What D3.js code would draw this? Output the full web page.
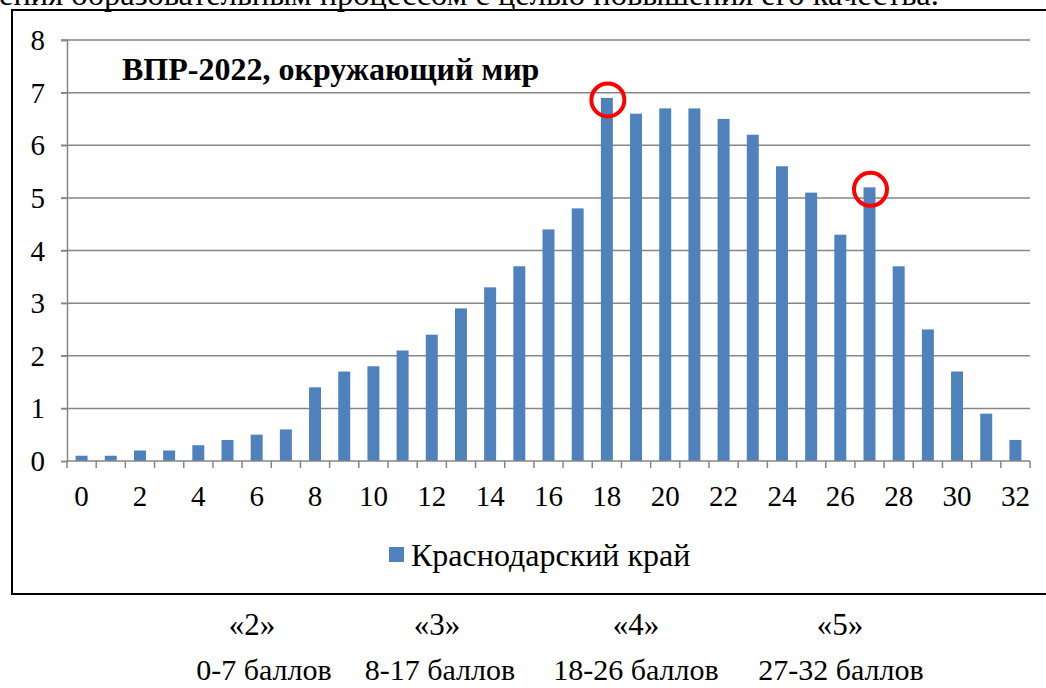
<!DOCTYPE html>
<html><head><meta charset="utf-8">
<script src="https://cdn.jsdelivr.net/npm/d3@7"></script>
<style>body{margin:0;background:#fff;overflow:hidden}svg{display:block}
svg text{font-family:"Liberation Serif","Times New Roman","DejaVu Serif",serif;}</style>
</head><body>
<svg id="c" width="1046" height="688"></svg>
<script>
const categories = d3.range(0, 33);
const values = [0.1,0.1,0.2,0.2,0.3,0.4,0.5,0.6,1.4,1.7,1.8,2.1,2.4,2.9,3.3,3.7,4.4,4.8,6.9,6.6,6.7,6.7,6.5,6.2,5.6,5.1,4.3,5.2,3.7,2.5,1.7,0.9,0.4];
const yTicks = [0,1,2,3,4,5,6,7,8];
const xTickLabels = d3.range(0, 33, 2);
const highlighted = [18, 27];
const seriesName = "Краснодарский край";
const chartTitle = "ВПР-2022, окружающий мир";
const topText = "ения образовательным процессом с целью повышения его качества.";
const grades = ["«2»","«3»","«4»","«5»"];
const gradeRanges = ["0-7 баллов","8-17 баллов","18-26 баллов","27-32 баллов"];

const svg = d3.select("#c");
const serif = '"Liberation Serif","Times New Roman","DejaVu Serif",serif';
const L = 67, R = 1030, T = 40, B = 461;
const x = d3.scaleBand().domain(categories).range([L, R]).paddingInner(0.59).paddingOuter(0.295);
const xEdge = d3.scaleLinear().domain([0, categories.length]).range([L, R]);
const y = d3.scaleLinear().domain([0, 8]).range([B, T]);

function ft(sel, size, weight) {
  return sel.style("font-family", serif).style("font-size", size + "px").style("font-weight", weight || "normal").attr("fill", "#000");
}

// top cut text
ft(svg.append("text").attr("x", -1).attr("y", 5), 32.5).text(topText);
// frame
svg.append("rect").attr("x", 12).attr("y", 10).attr("width", 1060).attr("height", 584).attr("fill", "none").attr("stroke", "#000").attr("stroke-width", 2);

// gridlines
svg.append("g").selectAll("line").data(yTicks.filter(d => d > 0)).join("line")
  .attr("x1", L - 6).attr("x2", R).attr("y1", d => y(d)).attr("y2", d => y(d))
  .attr("stroke", "#868686").attr("stroke-width", 1.5);

// y axis
const ya = svg.append("g").attr("transform", `translate(${L},0)`)
  .call(d3.axisLeft(y).tickValues(yTicks).tickSize(6).tickPadding(16).tickFormat(d3.format("d")));
ya.attr("font-family", null).attr("font-size", null);
ya.select(".domain").attr("stroke", "#868686").attr("stroke-width", 1.5);
ya.selectAll(".tick line").attr("stroke", "#868686").attr("stroke-width", 1.5);
ft(ya.selectAll("text"), 29).attr("dy", "0.33em");

// bars
svg.append("g").selectAll("rect").data(categories).join("rect")
  .attr("x", d => x(d)).attr("width", x.bandwidth())
  .attr("y", d => y(values[d])).attr("height", d => y(0) - y(values[d]))
  .attr("fill", "#4F81BD");

// x axis line and ticks
svg.append("line").attr("x1", L).attr("x2", R).attr("y1", B).attr("y2", B).attr("stroke", "#868686").attr("stroke-width", 1.5);
svg.append("g").selectAll("line").data(d3.range(0, categories.length + 1)).join("line")
  .attr("x1", d => xEdge(d)).attr("x2", d => xEdge(d)).attr("y1", B).attr("y2", B + 7)
  .attr("stroke", "#868686").attr("stroke-width", 1.5);
ft(svg.append("g").selectAll("text").data(xTickLabels).join("text")
  .attr("x", d => x(d) + x.bandwidth() / 2).attr("y", 506)
  .attr("text-anchor", "middle"), 29)
  .text(d => d);

// title
ft(svg.append("text").attr("x", 122).attr("y", 80), 32, "bold").text(chartTitle);

// highlight circles
svg.append("g").selectAll("circle").data(highlighted).join("circle")
  .attr("cx", d => x(d) + x.bandwidth() / 2 + 1).attr("cy", d => y(values[d]) + 2)
  .attr("r", 16.5).attr("fill", "none").attr("stroke", "#FF0000").attr("stroke-width", 4);

// legend
svg.append("rect").attr("x", 389).attr("y", 547).attr("width", 15).attr("height", 15).attr("fill", "#4F81BD");
ft(svg.append("text").attr("x", 411).attr("y", 566), 32).text(seriesName);

// bottom texts
const gx = [252, 437, 636, 840];
const rx = [264, 440, 636, 841];
ft(svg.append("g").selectAll("text").data(grades).join("text")
  .attr("x", (d, i) => gx[i]).attr("y", 635).attr("text-anchor", "middle"), 31).text(d => d);
ft(svg.append("g").selectAll("text").data(gradeRanges).join("text")
  .attr("x", (d, i) => rx[i]).attr("y", 680).attr("text-anchor", "middle"), 30).text(d => d);
</script>
</body></html>
